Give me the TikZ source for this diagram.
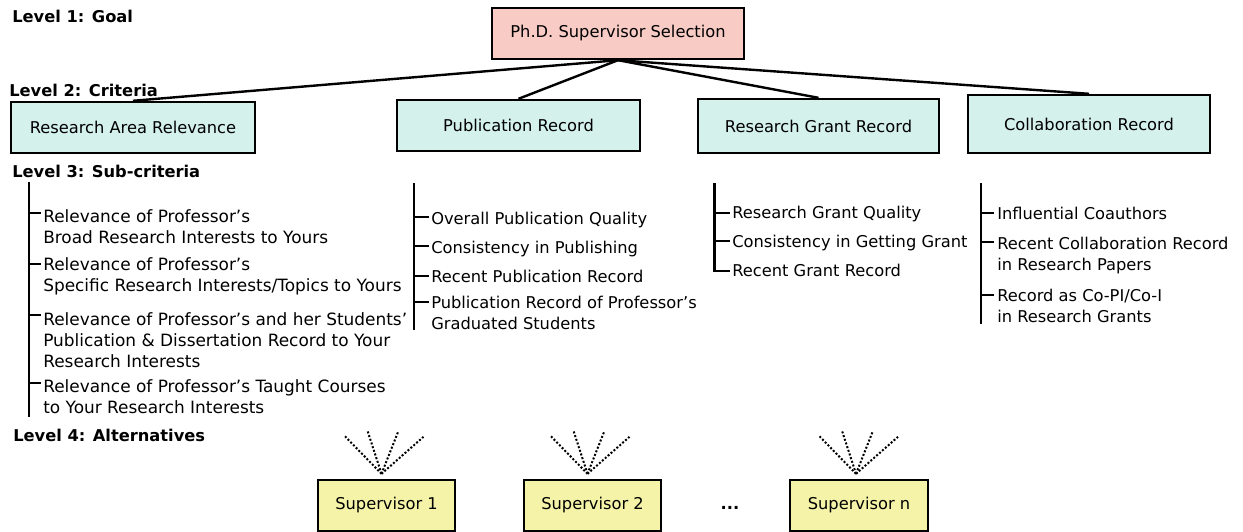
\documentclass[tikz,border=0pt]{standalone}
\usepackage{fontspec}
\setmainfont{DejaVu Sans}
\definecolor{goalfill}{HTML}{F8CBC5}
\definecolor{critfill}{HTML}{D4F1EC}
\definecolor{altfill}{HTML}{F4F3A8}
\begin{document}
\begin{tikzpicture}[x=0.75pt,y=-0.75pt,
  font=\fontsize{12.2pt}{15.4pt}\selectfont,
  bx/.style 2 args={draw=black, line width=1.8pt, inner sep=0pt,
    minimum width=#1*0.75pt, minimum height=#2*0.75pt},
  goalbox/.style={fill=goalfill},
  critbox/.style={fill=critfill},
  altbox/.style={fill=altfill},
  levellabel/.style={anchor=base west, inner sep=0pt, font=\fontsize{12.2pt}{15pt}\selectfont\bfseries},
  item/.style={anchor=base west, inner sep=0pt, align=left},
  wideitem/.style={item, font=\fontsize{12.7pt}{15.6pt}\selectfont},
  link/.style={line width=1.8pt},
  spine/.style={line width=2.2pt},
  tick/.style={line width=1.5pt},
  fan/.style={line width=1.5pt, dash pattern=on 1.5pt off 1.4pt}
]
\useasboundingbox (0,0) rectangle (1243,532);

% level labels
\node[levellabel] (l1) at (12,22) {Level 1: Goal};
\node[levellabel] (l2) at (9,96) {Level 2: Criteria};
\node[levellabel] (l3) at (12,177) {Level 3: Sub-criteria};
\node[levellabel] (l4) at (13,441) {Level 4: Alternatives};

% goal
\node[bx={252}{51}, goalbox] (goal) at (618,33.5) {Ph.D. Supervisor Selection};

% criteria
\node[bx={244}{51}, critbox] (rar) at (133,127.5) {Research Area Relevance};
\node[bx={243}{51}, critbox] (pr) at (518.5,125.5) {Publication Record};
\node[bx={241}{54}, critbox] (rgr) at (818.5,126) {Research Grant Record};
\node[bx={242}{58}, critbox] (cr) at (1089,124) {Collaboration Record};

\foreach \c in {rar,pr,rgr,cr} \draw[link] (goal.south) -- (\c.north);

% sub-criteria group 1 (anchor = baseline of last line)
\draw[spine] (29,182) -- (29,417);
\node[wideitem] (a1) at (43,243) {Relevance of Professor's\\Broad Research Interests to Yours};
\node[wideitem] (a2) at (43,291) {Relevance of Professor's\\Specific Research Interests/Topics to Yours};
\node[wideitem] (a3) at (43,367) {Relevance of Professor's and her Students'\\Publication \& Dissertation Record to Your\\Research Interests};
\node[wideitem] (a4) at (43,413) {Relevance of Professor's Taught Courses\\to Your Research Interests};
\foreach \y in {213,264,315,383} \draw[tick] (29,\y) -- (41,\y);

% group 2
\draw[spine] (414,183) -- (414,330);
\node[item] (b1) at (431,224) {Overall Publication Quality};
\node[item] (b2) at (431,253) {Consistency in Publishing};
\node[item] (b3) at (431,282) {Recent Publication Record};
\node[item] (b4) at (431,329) {Publication Record of Professor's\\Graduated Students};
\foreach \y in {217,246,276,302} \draw[tick] (414,\y) -- (429,\y);

% group 3
\draw[spine] (714.5,183) -- (714.5,271.5);
\node[item] (c1) at (732,218) {Research Grant Quality};
\node[item] (c2) at (732,247) {Consistency in Getting Grant};
\node[item] (c3) at (732,276) {Recent Grant Record};
\foreach \y in {213,241,270.5} \draw[tick] (714.5,\y) -- (730,\y);

% group 4
\draw[spine] (981,183) -- (981,324);
\node[item] (d1) at (997,219) {Influential Coauthors};
\node[item] (d2) at (997,270) {Recent Collaboration Record\\in Research Papers};
\node[item] (d3) at (997,322) {Record as Co-PI/Co-I\\in Research Grants};
\foreach \y in {213,242,295} \draw[tick] (981,\y) -- (994,\y);

% alternatives
\node[bx={137}{51}, altbox] (s1) at (386.5,505.5) {Supervisor 1};
\node[bx={137}{51}, altbox] (s2) at (592.5,505.5) {Supervisor 2};
\node[bx={138}{51}, altbox] (sn) at (859,505.5) {Supervisor n};
\node[anchor=base, inner sep=0pt] (dots) at (730,509) {\textbf{...}};

\foreach \s/\dx in {s1/-5,s2/-5,sn/-3} {
  \coordinate (\s c) at ([xshift=\dx*0.75pt, yshift=5*0.75pt]\s.north);
  \foreach \ox/\oy in {-37/-38,-14/-43,17/-43,42/-37}
    \draw[fan] (\s c) -- ++(\ox,\oy);
}
\end{tikzpicture}
\end{document}
